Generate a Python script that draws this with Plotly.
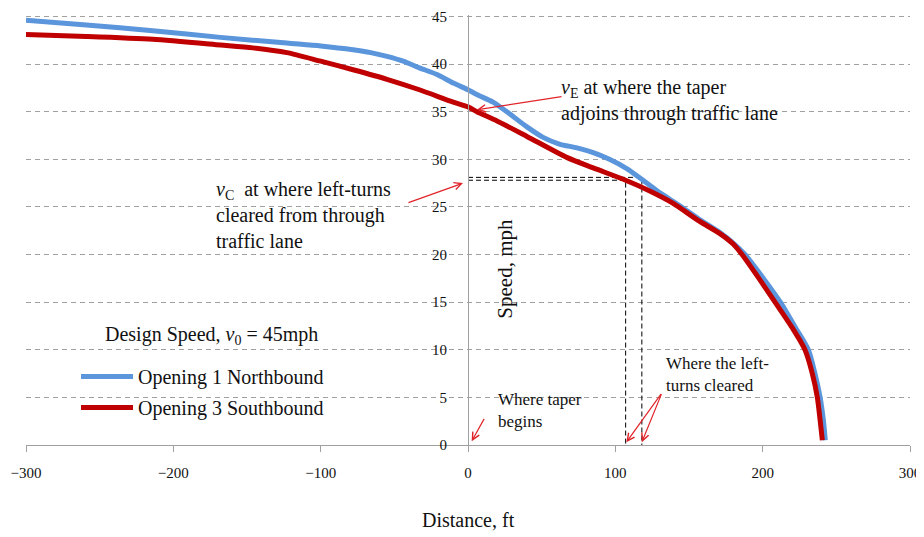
import plotly.graph_objects as go

# ---- data ----
blue_name = "Opening 1 Northbound"
blue_x = [-300, -259, -214, -168, -123, -100, -78, -66, -55, -44, -33, -21, -10, 0, 6, 17, 28, 40, 51, 62,
          74, 85, 96, 108, 117, 130, 143, 157, 171, 180, 188, 200, 212, 222, 231, 235.5, 239, 241.2, 242.5]
blue_y = [44.6, 44.1, 43.5, 42.8, 42.2, 41.9, 41.5, 41.2, 40.8, 40.3, 39.6, 38.9, 38.0, 37.3, 36.8, 36.0, 34.8, 33.4, 32.3, 31.6,
          31.2, 30.7, 30.0, 29.0, 28.0, 26.5, 25.2, 23.7, 22.3, 21.2, 20.0, 17.6, 15.0, 12.4, 10.0, 7.5, 5.0, 2.6, 0.5]

red_name = "Opening 3 Southbound"
red_x = [-300, -259, -214, -168, -146, -123, -100, -78, -55, -33, -10, 0, 6, 20, 40, 67, 85, 107, 123, 139,
         157, 171, 180, 186, 197, 208.4, 219.7, 228.7, 233.7, 237.1, 239, 240.5]
red_y = [43.1, 42.9, 42.6, 42.0, 41.7, 41.2, 40.3, 39.4, 38.4, 37.3, 36.0, 35.5, 35.0, 34.0, 32.4, 30.2, 29.1, 27.8, 26.7, 25.4,
         23.5, 22.2, 21.1, 20.0, 17.6, 15.0, 12.4, 10.0, 7.5, 5.0, 2.6, 0.5]

# points where left-turns cleared (vC) for each series
vc_x = [118, 107]
vc_y = [28.1, 27.8]

x_ticks = [-300, -200, -100, 0, 100, 200, 300]
y_ticks = [0, 5, 10, 15, 20, 25, 30, 35, 40, 45]

SERIF = "Liberation Serif, Times New Roman, serif"
BLUE = "#5B95DC"
RED = "#C00000"
ARROW = "#E0242A"
TXT = "#111111"

fig = go.Figure()

# dashed reference lines for vC
for xx, yy in zip(vc_x, vc_y):
    fig.add_trace(go.Scatter(x=[0, xx, xx], y=[yy, yy, 0], mode="lines",
                             line=dict(color="black", width=1, dash="5px,3px"),
                             showlegend=False, hoverinfo="skip"))

fig.add_trace(go.Scatter(x=blue_x, y=blue_y, mode="lines", name=blue_name, legendgroup="b",
                         line=dict(color=BLUE, width=5, shape="spline", smoothing=0.7)))
fig.add_trace(go.Scatter(x=red_x, y=red_y, mode="lines", name=red_name, legendgroup="r",
                         line=dict(color=RED, width=5, shape="spline", smoothing=0.7)))

ann = []
def arrow(x0, y0, x1, y1):
    ann.append(dict(x=x1, y=y1, ax=x0, ay=y0, xref="x", yref="y", axref="x", ayref="y",
                    text="", showarrow=True, arrowhead=5, arrowsize=1.2, arrowwidth=1.2,
                    arrowcolor=ARROW, standoff=0))

def label(x, y, text, size=20, xanchor="left"):
    ann.append(dict(x=x, y=y, xref="x", yref="y", text=text, showarrow=False,
                    xanchor=xanchor, yanchor="middle", align="left",
                    font=dict(family=SERIF, size=size, color=TXT)))

label(61.5, 36.2, "<i>v</i><sub>E</sub> at where the taper<br>adjoins through traffic lane")
arrow(64.5, 36.6, 6.0, 35.2)

label(-172.5, 24.1, "<i>v</i><sub>C</sub>  at where left-turns<br>cleared from through<br>traffic lane")
arrow(-41.4, 25.4, -3.4, 27.5)

label(19, 3.6, "Where taper<br>begins", size=17)
arrow(11.5, 2.9, 2.5, 0.4)

label(133, 7.4, "Where the left-<br>turns cleared", size=17)
arrow(131.7, 5.5, 107.5, 0.3)
arrow(131.7, 5.5, 118, 0.3)

label(-248, 11.5, "Design Speed, <i>v</i><sub>0</sub> = 45mph")

# axis titles
ann.append(dict(x=25, y=18.5, xref="x", yref="y", text="Speed, mph", textangle=-90,
                showarrow=False, font=dict(family=SERIF, size=21, color=TXT)))
ann.append(dict(x=0.5, y=-0.175, xref="paper", yref="paper", text="Distance, ft",
                showarrow=False, yanchor="middle", font=dict(family=SERIF, size=20, color=TXT)))

# the page body adds an 8px margin, so the figure is 8px smaller on each axis
fig.update_layout(
    width=916, height=529,
    margin=dict(l=18, r=14, t=7, b=92, autoexpand=False),
    paper_bgcolor="white", plot_bgcolor="white",
    annotations=ann,
    showlegend=True,
    legend=dict(x=(76 - 26) / 884, y=(445 - 357) / 430, xanchor="left", yanchor="top",
                bgcolor="rgba(0,0,0,0)", font=dict(family=SERIF, size=20, color=TXT),
                traceorder="grouped", tracegroupgap=2, itemwidth=52),
    xaxis=dict(range=[-300, 300], tickvals=x_ticks, showgrid=False, zeroline=False,
               automargin=False,
               showline=True, linecolor="#A0A0A0", linewidth=1, ticks="outside",
               ticklen=6, tickcolor="#A0A0A0", ticklabelstandoff=8,
               tickfont=dict(family=SERIF, size=15, color=TXT)),
    yaxis=dict(range=[0, 45.15], tickvals=y_ticks, anchor="free", position=0.5,
               automargin=False, ticklabeloverflow="allow",
               showgrid=True, gridcolor="#A0A0A0", griddash="5px,4px", gridwidth=1,
               zeroline=False, showline=True, linecolor="#A0A0A0", linewidth=1,
               ticks="", ticklabelstandoff=18,
               tickfont=dict(family=SERIF, size=15, color=TXT)),
)

fig.write_html("out.html")
